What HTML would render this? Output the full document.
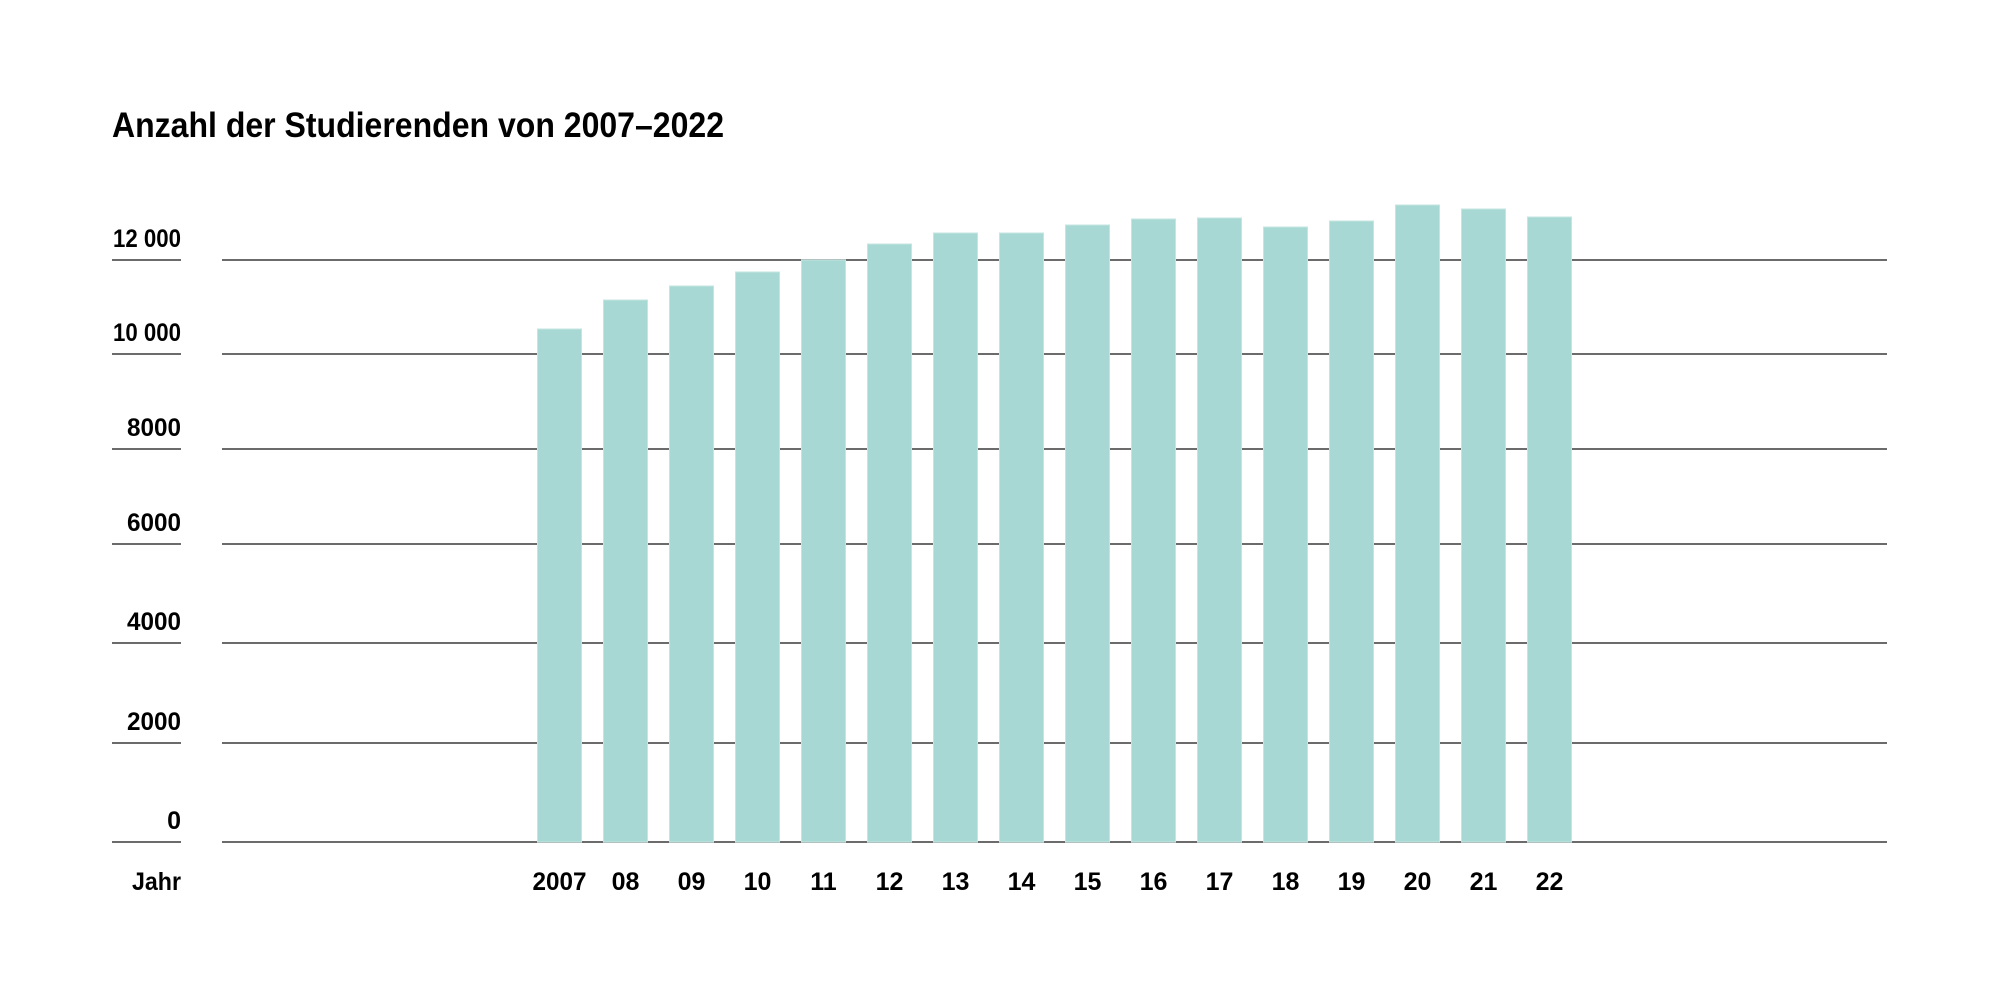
<!DOCTYPE html>
<html><head><meta charset="utf-8"><style>
html,body{margin:0;padding:0;background:#fff;}
svg{display:block;}
text{font-family:"Liberation Sans",Arial,sans-serif;font-weight:bold;fill:#000;}
</style></head><body>
<svg width="2000" height="1000" viewBox="0 0 2000 1000" xmlns="http://www.w3.org/2000/svg">
<text x="112" y="137" font-size="35" textLength="612" lengthAdjust="spacingAndGlyphs">Anzahl der Studierenden von 2007–2022</text>
<g stroke="#3a3a3a" stroke-width="1.6">
<line x1="112" x2="181" y1="260" y2="260"/><line x1="222" x2="1887" y1="260" y2="260"/>
<line x1="112" x2="181" y1="354" y2="354"/><line x1="222" x2="1887" y1="354" y2="354"/>
<line x1="112" x2="181" y1="449" y2="449"/><line x1="222" x2="1887" y1="449" y2="449"/>
<line x1="112" x2="181" y1="544" y2="544"/><line x1="222" x2="1887" y1="544" y2="544"/>
<line x1="112" x2="181" y1="643" y2="643"/><line x1="222" x2="1887" y1="643" y2="643"/>
<line x1="112" x2="181" y1="743" y2="743"/><line x1="222" x2="1887" y1="743" y2="743"/>
<line x1="112" x2="181" y1="842" y2="842"/><line x1="222" x2="1887" y1="842" y2="842"/>
</g>
<g font-size="25" text-anchor="end">
<text x="181" y="247" textLength="68" lengthAdjust="spacingAndGlyphs">12 000</text>
<text x="181" y="341" textLength="68" lengthAdjust="spacingAndGlyphs">10 000</text>
<text x="181" y="436" textLength="54" lengthAdjust="spacingAndGlyphs">8000</text>
<text x="181" y="531" textLength="54" lengthAdjust="spacingAndGlyphs">6000</text>
<text x="181" y="630" textLength="54" lengthAdjust="spacingAndGlyphs">4000</text>
<text x="181" y="730" textLength="54" lengthAdjust="spacingAndGlyphs">2000</text>
<text x="181" y="829">0</text>
<text x="181" y="890" textLength="49" lengthAdjust="spacingAndGlyphs">Jahr</text>
</g>
<g fill="#a8d8d3" stroke="#c4e6e2" stroke-width="1">
<rect x="537.5" y="329" width="44" height="513"/>
<rect x="603.5" y="300" width="44" height="542"/>
<rect x="669.5" y="286" width="44" height="556"/>
<rect x="735.5" y="272" width="44" height="570"/>
<rect x="801.5" y="260" width="44" height="582"/>
<rect x="867.5" y="244" width="44" height="598"/>
<rect x="933.5" y="233" width="44" height="609"/>
<rect x="999.5" y="233" width="44" height="609"/>
<rect x="1065.5" y="225" width="44" height="617"/>
<rect x="1131.5" y="219" width="44" height="623"/>
<rect x="1197.5" y="218" width="44" height="624"/>
<rect x="1263.5" y="227" width="44" height="615"/>
<rect x="1329.5" y="221" width="44" height="621"/>
<rect x="1395.5" y="205" width="44" height="637"/>
<rect x="1461.5" y="209" width="44" height="633"/>
<rect x="1527.5" y="217" width="44" height="625"/>
</g>
<g font-size="25" text-anchor="middle">
<text x="559.5" y="890" textLength="54" lengthAdjust="spacingAndGlyphs">2007</text>
<text x="625.5" y="890">08</text>
<text x="691.5" y="890">09</text>
<text x="757.5" y="890">10</text>
<text x="823.5" y="890">11</text>
<text x="889.5" y="890">12</text>
<text x="955.5" y="890">13</text>
<text x="1021.5" y="890">14</text>
<text x="1087.5" y="890">15</text>
<text x="1153.5" y="890">16</text>
<text x="1219.5" y="890">17</text>
<text x="1285.5" y="890">18</text>
<text x="1351.5" y="890">19</text>
<text x="1417.5" y="890">20</text>
<text x="1483.5" y="890">21</text>
<text x="1549.5" y="890">22</text>
</g>
</svg>
</body></html>
